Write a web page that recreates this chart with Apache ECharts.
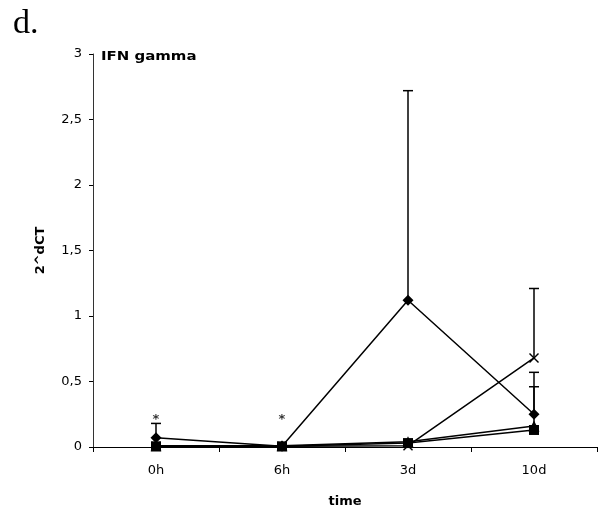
<!DOCTYPE html>
<html>
<head>
<meta charset="utf-8">
<script src="https://cdn.jsdelivr.net/npm/echarts@6/dist/echarts.min.js"></script>
<style>
  html, body { margin: 0; padding: 0; background: #fff; }
  #chart { width: 605px; height: 513px; }
</style>
</head>
<body>
<div id="chart"></div>
<script>
// categories on the time axis
let categories = ['0h', '6h', '3d', '10d'];

// mean values per group
let diamondVals = [0.07, 0.005, 1.12, 0.25];
let crossVals = [0.005, 0.005, 0.01, 0.68];
let triangleVals = [0.01, 0.01, 0.04, 0.16];
let squareVals = [0.005, 0.005, 0.03, 0.13];

// upper end of the error bars (null = no bar)
let diamondErr = [0.18, null, 2.72, 0.57];
let crossErr = [null, null, null, 1.21];
let triangleErr = [null, null, null, 0.46];

// significance stars
let starLevel = [0.21, 0.21, null, null];

let yMin = 0, yMax = 3, yStep = 0.5;

let myChart = echarts.init(document.getElementById('chart'));

// 组装误差线数据 [index, value, top]
function errData(vals, errs) {
    let out = [];
    for (let i = 0; i < vals.length; i++) {
        if (errs[i] !== null) out.push([i, vals[i], errs[i]]);
    }
    return out;
}

let allErr = []
    .concat(errData(diamondVals, diamondErr))
    .concat(errData(crossVals, crossErr))
    .concat(errData(triangleVals, triangleErr));

let starData = [];
for (let i = 0; i < starLevel.length; i++) {
    if (starLevel[i] !== null) starData.push([i, starLevel[i]]);
}

let crossPath = 'path://M0,1 L1,0 L5,4 L9,0 L10,1 L6,5 L10,9 L9,10 L5,6 L1,10 L0,9 L4,5 Z';

function lineSeries(vals, symbol, size) {
    return {
        type: 'line',
        data: vals,
        symbol: symbol,
        symbolSize: size,
        showAllSymbol: true,
        lineStyle: { color: '#000', width: 1.5 },
        itemStyle: { color: '#000' },
        z: 3
    };
}

let option = {
    animation: false,
    backgroundColor: '#fff',
    grid: { left: 93, right: 8, top: 54, bottom: 65 },
    xAxis: {
        type: 'category',
        data: categories,
        boundaryGap: true,
        name: 'time',
        nameLocation: 'middle',
        nameGap: 48,
        nameTextStyle: { fontFamily: 'DejaVu Sans', fontWeight: 'bold', fontSize: 13, color: '#000' },
        axisLine: { lineStyle: { color: '#000', width: 1 } },
        axisTick: { show: true, length: 5, lineStyle: { color: '#000' } },
        axisLabel: { margin: 17, fontFamily: 'DejaVu Sans', fontSize: 13, color: '#000' },
        splitLine: { show: false }
    },
    yAxis: {
        type: 'value',
        min: yMin,
        max: yMax,
        interval: yStep,
        name: '2^dCT',
        nameLocation: 'middle',
        nameGap: 46,
        nameRotate: 90,
        nameTextStyle: { fontFamily: 'DejaVu Sans', fontWeight: 'bold', fontSize: 13, color: '#000' },
        axisLine: { show: true, lineStyle: { color: '#333', width: 1 } },
        axisTick: { show: true, length: 4, lineStyle: { color: '#000' } },
        axisLabel: {
            margin: 11,
            fontFamily: 'DejaVu Sans',
            fontSize: 13,
            color: '#000',
            formatter: function (v) { return String(v).replace('.', ','); }
        },
        splitLine: { show: false }
    },
    graphic: [
        {
            type: 'text', x: 13, y: 7,
            style: { text: 'd.', fontFamily: 'Liberation Serif', fontSize: 34, fill: '#000' }
        },
        {
            type: 'text', x: 101, y: 50, scaleX: 1.15,
            style: { text: 'IFN gamma', fontFamily: 'DejaVu Sans', fontWeight: 'bold', fontSize: 13, fill: '#000' }
        }
    ],
    series: [
        {
            type: 'custom',
            data: allErr,
            encode: { x: 0, y: [1, 2] },
            z: 2,
            renderItem: function (params, api) {
                let low = api.coord([api.value(0), api.value(1)]);
                let high = api.coord([api.value(0), api.value(2)]);
                let w = 5;
                return {
                    type: 'group',
                    children: [
                        { type: 'line', shape: { x1: low[0], y1: low[1], x2: high[0], y2: high[1] }, style: { stroke: '#000', lineWidth: 1.5 } },
                        { type: 'line', shape: { x1: high[0] - w, y1: high[1], x2: high[0] + w, y2: high[1] }, style: { stroke: '#000', lineWidth: 1.5 } }
                    ]
                };
            }
        },
        lineSeries(diamondVals, 'diamond', 11),
        lineSeries(crossVals, crossPath, 10),
        lineSeries(triangleVals, 'triangle', 11),
        lineSeries(squareVals, 'rect', 10),
        {
            type: 'scatter',
            data: starData,
            symbolSize: 1,
            itemStyle: { color: 'rgba(0,0,0,0)' },
            label: {
                show: true,
                position: 'inside',
                formatter: '*',
                fontFamily: 'DejaVu Sans',
                fontWeight: 'bold',
                fontSize: 13,
                color: '#000'
            }
        }
    ]
};

myChart.setOption(option, true);
</script>
</body>
</html>
